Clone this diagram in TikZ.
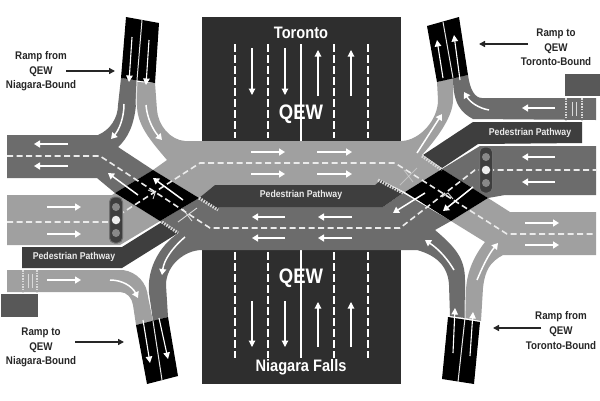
\documentclass[tikz,border=0pt]{standalone}
\usepackage{fontspec}
\setmainfont[FakeStretch=0.88]{Liberation Sans}
\usetikzlibrary{arrows.meta}
\definecolor{roadlight}{HTML}{A0A0A0}
\definecolor{roaddark}{HTML}{6C6C6C}
\definecolor{pathdark}{HTML}{3E3E3E}
\definecolor{qewbox}{HTML}{2E2E2E}
\definecolor{sideblock}{HTML}{585858}
\tikzset{
  lightroad/.style={fill=roadlight,draw=none},
  darkroad/.style={fill=roaddark,draw=none},
  pathway/.style={fill=pathdark,draw=none},
  blackend/.style={fill=black,draw=none},
  qewblock/.style={fill=qewbox,draw=none},
  lanedash/.style={draw=white!92!black,line width=1.6pt,dash pattern=on 6pt off 3.5pt},
  qewdash/.style={draw=white,line width=1.6pt,dash pattern=on 8pt off 3pt},
  flow/.style={draw=white,line width=1.5pt,-{Triangle[length=6pt,width=7pt]}},
  thinflow/.style={draw=white,line width=1.1pt,-{Triangle[length=6.5pt,width=6.5pt]}},
  callout/.style={draw=black!85,line width=1.4pt,-{Triangle[length=6pt,width=6pt]}},
  hatch/.style={draw=white!85!black,line width=3pt,dash pattern=on 1.5pt off 1.2pt},
  divider/.style={draw=white!90!black,line width=1pt},
  mini/.style={draw=white!85!black,line width=.9pt},
  rampnote/.style={font=\fontsize{11.1}{14.6}\selectfont\bfseries,text=black!85,align=center,inner sep=0pt},
  pathnote/.style={font=\fontsize{9.9}{11}\selectfont\bfseries,text=white!92!black,inner sep=0pt},
  roadname/.style={font=\fontsize{16.6}{18}\selectfont\bfseries,text=white,inner sep=0pt},
  qewname/.style={font=\fontsize{21}{22}\selectfont\bfseries,text=white,inner sep=0pt},
  signalcase/.style={fill=pathdark,draw=roadlight!70!black,line width=1pt,rounded corners=5pt},
  lampdim/.style={circle,fill=roadlight!85!black,minimum size=8pt,inner sep=0pt},
  lamplit/.style={circle,fill=white!92!black,minimum size=8.5pt,inner sep=0pt}
}
\begin{document}
\begin{tikzpicture}[x=1pt,y=-1pt]
\useasboundingbox (0,0) rectangle (600,400);
\fill[white] (0,0) rectangle (600,400);

% QEW carriageway
\fill[qewblock] (202,17) rectangle (401,141);
\fill[qewblock] (202,249) rectangle (401,384);
\foreach \xx in {235,268,334,368} {
  \draw[qewdash] (\xx,44) -- (\xx,138);
  \draw[qewdash] (\xx,252) -- (\xx,358);
}
\draw[draw=white,line width=1.4pt] (301,44) -- (301,141);
\draw[draw=white,line width=1.4pt] (301,249) -- (301,358);
\foreach \xx in {252,285} {
  \draw[thinflow] (\xx,48) -- (\xx,95);
  \draw[thinflow] (\xx,301) -- (\xx,347);
}
\foreach \xx in {318,351} {
  \draw[thinflow] (\xx,96) -- (\xx,50);
  \draw[thinflow] (\xx,347) -- (\xx,302);
}

% Roads
\fill[darkroad] (7,135) -- (98,135) .. controls (110,130) and (118,118) .. (118,105) -- (121,78) -- (137,80)
  -- (136,105) .. controls (134,125) and (128,138) .. (118,147) -- (153,170) -- (115,193) -- (97,178) -- (7,178) -- cycle;
\fill[lightroad] (137,82) -- (155,83) -- (157,110) .. controls (158,125) and (170,140) .. (185,141) -- (402,141)
  .. controls (420,140) and (438,120) .. (438,100) -- (437,82) -- (453,78) -- (453,100) .. controls (453,115) and (440,135) .. (422,155)
  -- (442,169) -- (405,192) -- (381,180) -- (375,185) -- (215,185) -- (199,198) -- (153,170) -- (167,160)
  .. controls (150,140) and (137,125) .. (137,105) -- cycle;
\fill[darkroad] (160,221) -- (199,198) -- (218,207) -- (383,207) -- (403,193) -- (451,221) -- (435,230)
  .. controls (455,247) and (465,258) .. (465,280) -- (465,318) -- (450,316) -- (449,285) .. controls (448,265) and (435,255) .. (417,250)
  -- (202,250) .. controls (185,250) and (166,265) .. (166,285) -- (168,317) -- (153,321) -- (149,293)
  .. controls (147,270) and (158,250) .. (172,238) -- (178,233) -- (162,222) -- cycle;
\fill[lightroad] (7,195) -- (112,195) -- (115,193) -- (160,221) -- (120,245) -- (7,245) -- cycle;
\fill[lightroad] (7,270) -- (123,270) .. controls (137,272) and (147,283) .. (148,297) -- (153,321) -- (136,325)
  -- (133,305) .. controls (132,298) and (127,292) .. (120,292) -- (7,292) -- cycle;
\fill[darkroad] (442,169) -- (480,146) -- (596,146) -- (596,195) -- (505,195) -- (488,198) -- cycle;
\fill[lightroad] (451,221) -- (488,198) -- (510,212) -- (596,212) -- (596,255) -- (503,255)
  .. controls (490,262) and (485,270) .. (483,288) -- (481,321) -- (465,318) -- (466,290) .. controls (467,270) and (475,255) .. (485,242) -- cycle;
\fill[darkroad] (453,78) -- (468,75) .. controls (470,90) and (475,98) .. (482,98) -- (596,98) -- (596,120)
  -- (473,119) .. controls (462,113) and (453,105) .. (453,78) -- cycle;

% Pedestrian pathways
\fill[pathway] (22,247) -- (122,247) -- (162,222) -- (178,233) -- (122,268) -- (22,268) -- cycle;
\fill[pathway] (199,198) -- (215,185) -- (375,185) -- (381,180) -- (403,193) -- (383,207) -- (218,207) -- (218,210) -- cycle;
\fill[pathway] (423,155) -- (473,122) -- (582,122) -- (582,143) -- (478,144) -- (442,168) -- cycle;

% Plain side blocks
\fill[sideblock] (565,74) rectangle (600,96);
\fill[sideblock] (1,294) rectangle (38,317);

% Black ramp ends
\fill[blackend] (126,17) -- (159,23) -- (155,83) -- (121,78) -- cycle;
\fill[blackend] (427,26) -- (459,17) -- (468,75) -- (437,82) -- cycle;
\fill[blackend] (136,325) -- (168,317) -- (178,376) -- (147,384) -- cycle;
\fill[blackend] (448,317) -- (480,322) -- (474,384) -- (442,379) -- cycle;
\draw[divider] (142,20) -- (137,80) -- (136,105);
\draw[divider] (443,22) -- (453,78);
\draw[divider] (153,321) -- (162,380);
\draw[divider] (465,300) -- (465,318) -- (458,382);

% Black junction squares
\fill[blackend] (153,170) -- (199,198) -- (160,221) -- (115,193) -- cycle;
\fill[blackend] (442,169) -- (488,198) -- (451,221) -- (405,192) -- cycle;

% Crosswalk edges
\draw[hatch] (162,222) -- (178,233);
\draw[hatch] (199,198) -- (218,210);
\draw[hatch] (378,180) -- (403,193);
\draw[hatch] (422,156) -- (442,170);
\draw[hatch,line width=2pt] (23,270) -- (23,292);
\draw[hatch,line width=2pt] (37,270) -- (37,292);
\draw[hatch,line width=2pt] (566,98) -- (566,120);
\draw[hatch,line width=2pt] (582,98) -- (582,120);
\draw[mini] (28,274) -- (28,288);
\draw[mini] (32,274) -- (32,288);
\draw[mini] (572,102) -- (572,116);
\draw[mini] (576,102) -- (576,116);
\draw[mini] (178,222) -- (197,208);
\draw[mini] (183,209) -- (192,221);
\draw[mini,opacity=.6] (400,185) -- (417,168);
\draw[mini,opacity=.6] (404,170) -- (413,182);
\draw[mini] (148,190) -- (155,193) -- (153,199);
\draw[mini] (442,197) -- (448,193) -- (453,199);

% Lane lines
\draw[lanedash] (7,156) -- (100,156) -- (210,228) -- (400,228) -- (475,170) -- (596,170);
\draw[lanedash] (7,222) -- (108,222) -- (200,163) -- (395,163) -- (507,234) -- (596,234);

% Flow arrows on the roads
\foreach \aa/\bb/\yy in {68/34/144, 68/34/166, 285/252/217, 285/252/238, 352/318/217, 352/318/238,
    555/522/157, 555/522/182, 555/522/108}
  \draw[flow] (\aa,\yy) -- (\bb,\yy);
\foreach \aa/\bb/\yy in {251/285/152, 251/285/174, 317/352/152, 317/352/174, 525/559/223, 525/559/245,
    47/81/207, 47/81/234, 47/81/280}
  \draw[flow] (\aa,\yy) -- (\bb,\yy);

% Ramp arrows
\draw[thinflow] (132,37) -- (129,82);
\draw[thinflow] (149,40) -- (146,85);
\draw[thinflow] (443,78) -- (437,40);
\draw[thinflow] (460,80) -- (454,35);
\draw[thinflow] (143,320) -- (150,363);
\draw[thinflow] (159,318) -- (168,359);
\draw[thinflow] (453,353) -- (455,308);
\draw[thinflow] (470,356) -- (473,312);
\draw[flow] (124,104) .. controls (124,118) and (119,130) .. (111,139);
\draw[flow] (146,105) .. controls (147,118) and (153,130) .. (162,140);
\draw[flow] (417,153) -- (442,114);
\draw[flow] (489,110) .. controls (478,108) and (470,102) .. (464,92);
\draw[flow] (110,280) .. controls (122,280) and (132,286) .. (138,298);
\draw[flow] (185,237) .. controls (172,248) and (164,260) .. (162,275);
\draw[flow] (454,270) .. controls (448,260) and (440,250) .. (425,240);
\draw[flow] (477,280) .. controls (482,268) and (488,255) .. (498,243);

% Junction arrows
\draw[flow] (138,195) -- (108,173);
\draw[flow] (183,200) -- (153,178);
\draw[flow] (425,193) -- (393,213);
\draw[flow] (473,187) -- (443,211);

% Signals
\draw[signalcase] (109.5,197) rectangle (122.5,243);
\node[lampdim] (sigAtop) at (116,207) {};
\node[lamplit] (sigAmid) at (116,220) {};
\node[lampdim] (sigAbot) at (116,233) {};
\draw[signalcase] (479.5,147) rectangle (492.5,193);
\node[lampdim] (sigBtop) at (486,157) {};
\node[lamplit] (sigBmid) at (486,170) {};
\node[lampdim] (sigBbot) at (486,183) {};

% Road names
\node[roadname] (toronto) at (301,33) {Toronto};
\node[qewname] (qewtop) at (301,114) {QEW};
\node[qewname] (qewbot) at (301,278) {QEW};
\node[roadname] (niagara) at (301,367) {Niagara Falls};

% Pathway names
\node[pathnote] (pathA) at (530,133) {Pedestrian Pathway};
\node[pathnote] (pathB) at (301,195) {Pedestrian Pathway};
\node[pathnote] (pathC) at (74,257) {Pedestrian Pathway};

% Ramp notes
\node[rampnote] (noteTL) at (41,71.5) {Ramp from\\QEW\\Niagara-Bound};
\node[rampnote] (noteTR) at (556,47.5) {Ramp to\\QEW\\Toronto-Bound};
\node[rampnote] (noteBL) at (41,347.5) {Ramp to\\QEW\\Niagara-Bound};
\node[rampnote] (noteBR) at (561,330.5) {Ramp from\\QEW\\Toronto-Bound};
\coordinate (startTL) at (66,71);
\coordinate (tipTL) at (115,71);
\coordinate (startTR) at (528,44);
\coordinate (tipTR) at (479,44);
\coordinate (startBL) at (75,342);
\coordinate (tipBL) at (124,342);
\coordinate (startBR) at (541,328);
\coordinate (tipBR) at (493,328);
\draw[callout] (startTL) -- (tipTL);
\draw[callout] (startTR) -- (tipTR);
\draw[callout] (startBL) -- (tipBL);
\draw[callout] (startBR) -- (tipBR);
\end{tikzpicture}
\end{document}
